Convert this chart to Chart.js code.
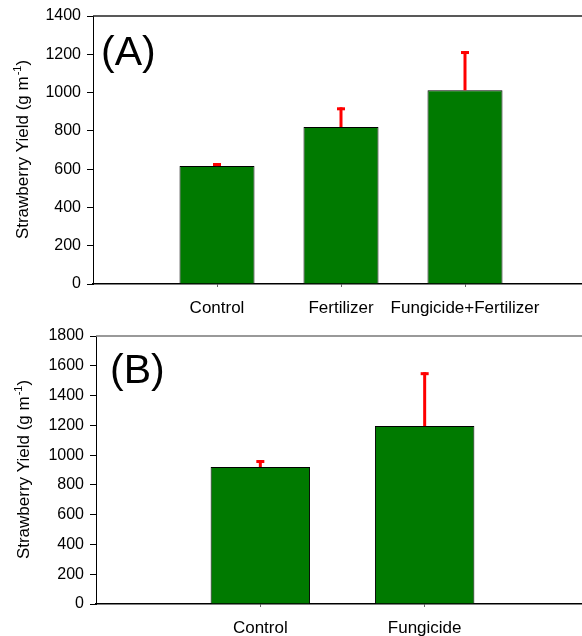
<!DOCTYPE html>
<html>
<head>
<meta charset="utf-8">
<script src="https://cdn.jsdelivr.net/npm/chart.js@4.4.0/dist/chart.umd.min.js"></script>
<style>
    html, body { margin: 0; padding: 0; background: #fff; overflow: hidden; }
    .panel { position: absolute; left: 0; width: 600px; }
    #panelA { top: 0; height: 318px; }
    #panelB { top: 320px; height: 316px; }
</style>
</head>
<body>
<div class="panel" id="panelA"><canvas id="chartA"></canvas></div>
<div class="panel" id="panelB"><canvas id="chartB"></canvas></div>
<script>
// Panel A data
const categoriesA = ['Control', 'Fertilizer', 'Fungicide+Fertilizer'];
const yieldA = [616, 820, 1012];
const errorA = [16, 103, 205];
const yTicksA = { max: 1400, step: 200 };

// Panel B data
const categoriesB = ['Control', 'Fungicide'];
const yieldB = [920, 1195];
const errorB = [47, 362];
const yTicksB = { max: 1800, step: 200 };

const FONT = "'Liberation Sans', Arial, sans-serif";

// red error bars drawn on top of the bars
const errorBarPlugin = {
    id: 'errorBars',
    afterDatasetsDraw(chart, args, opts) {
        const ctx = chart.ctx;
        const yScale = chart.scales.y;
        const meta = chart.getDatasetMeta(0);
        meta.data.forEach((bar, i) => {
            const v = chart.data.datasets[0].data[i].y;
            const top = yScale.getPixelForValue(v + opts.errors[i]);
            ctx.save();
            ctx.strokeStyle = '#ff0000';
            ctx.fillStyle = '#ff0000';
            ctx.lineWidth = 3;
            ctx.beginPath();
            ctx.moveTo(bar.x, bar.y);
            ctx.lineTo(bar.x, top);
            ctx.stroke();
            ctx.fillRect(bar.x - 4, top, 8, 3);
            ctx.restore();
        });
    }
};

// top frame line, y title with superscript, panel letter
const decorPlugin = {
    id: 'decor',
    afterDraw(chart, args, opts) {
        const ctx = chart.ctx;
        const a = chart.chartArea;
        ctx.save();
        ctx.strokeStyle = opts.topColor;
        ctx.lineWidth = 1.5;
        ctx.beginPath();
        ctx.moveTo(a.left, a.top);
        ctx.lineTo(a.right + 20, a.top);
        ctx.stroke();

        // y axis title
        ctx.fillStyle = '#000';
        ctx.textBaseline = 'middle';
        ctx.textAlign = 'left';
        ctx.translate(opts.titleX, (a.top + a.bottom) / 2);
        ctx.rotate(-Math.PI / 2);
        const main = 'Strawberry Yield (g m', sup = '-1', end = ')';
        ctx.font = '17px ' + FONT;
        const w1 = ctx.measureText(main).width;
        const w3 = ctx.measureText(end).width;
        ctx.font = '11px ' + FONT;
        const w2 = ctx.measureText(sup).width;
        let x = -(w1 + w2 + w3) / 2;
        ctx.font = '17px ' + FONT;
        ctx.fillText(main, x, 0);
        ctx.font = '11px ' + FONT;
        ctx.fillText(sup, x + w1 + 1, -5);
        ctx.font = '17px ' + FONT;
        ctx.fillText(end, x + w1 + w2 + 1, 0);
        ctx.restore();

        // panel letter
        ctx.save();
        ctx.fillStyle = '#000';
        ctx.font = '41px ' + FONT;
        ctx.textBaseline = 'middle';
        ctx.fillText(opts.label, a.left + opts.labelDx, a.top + opts.labelDy);
        ctx.restore();
    }
};

function makeChart(id, categories, values, errors, yTicks, p) {
    const xMax = categories.length + 1;
    return new Chart(document.getElementById(id), {
        type: 'bar',
        data: {
            datasets: [{
                data: values.map((v, i) => ({ x: i + 1, y: v })),
                backgroundColor: '#007a00',
                borderColor: '#000',
                borderWidth: 1,
                barPercentage: 0.605,
                categoryPercentage: 1
            }]
        },
        options: {
            responsive: true,
            maintainAspectRatio: false,
            animation: false,
            layout: { padding: { top: 16, right: 10, left: 0, bottom: 0 } },
            plugins: {
                legend: { display: false },
                tooltip: { enabled: false },
                errorBars: { errors: errors },
                decor: p.decor
            },
            scales: {
                x: {
                    type: 'linear',
                    min: 0,
                    max: xMax,
                    offset: false,
                    afterFit: s => { s.height = p.xHeight; },
                    grid: {
                        offset: false,
                        drawOnChartArea: false,
                        tickLength: 3,
                        tickColor: c => (c.tick && (c.tick.value === 0 || c.tick.value === xMax)) ? 'rgba(0,0,0,0)' : '#666'
                    },
                    border: { display: true, color: '#000', width: 1.5 },
                    ticks: {
                        stepSize: 1,
                        autoSkip: false,
                        maxRotation: 0,
                        padding: 11,
                        color: '#000',
                        font: { family: FONT, size: 17 },
                        callback: v => categories[v - 1] || ''
                    }
                },
                y: {
                    min: 0,
                    max: yTicks.max,
                    afterFit: s => { s.width = p.yWidth; },
                    grid: { drawOnChartArea: false, tickLength: 6, tickColor: '#000' },
                    border: { display: true, color: '#000', width: 1 },
                    ticks: {
                        stepSize: yTicks.step,
                        padding: 6,
                        color: '#000',
                        font: { family: FONT, size: 16 },
                        callback: v => String(v)
                    }
                }
            }
        },
        plugins: [errorBarPlugin, decorPlugin]
    });
}

makeChart('chartA', categoriesA, yieldA, errorA, yTicksA, {
    yWidth: 93, xHeight: 34,
    decor: { label: '(A)', labelDx: 8, labelDy: 38, titleX: 23, topColor: '#222' }
});

makeChart('chartB', categoriesB, yieldB, errorB, yTicksB, {
    yWidth: 96, xHeight: 32,
    decor: { label: '(B)', labelDx: 14, labelDy: 36, titleX: 24, topColor: '#777' }
});
</script>
</body>
</html>
